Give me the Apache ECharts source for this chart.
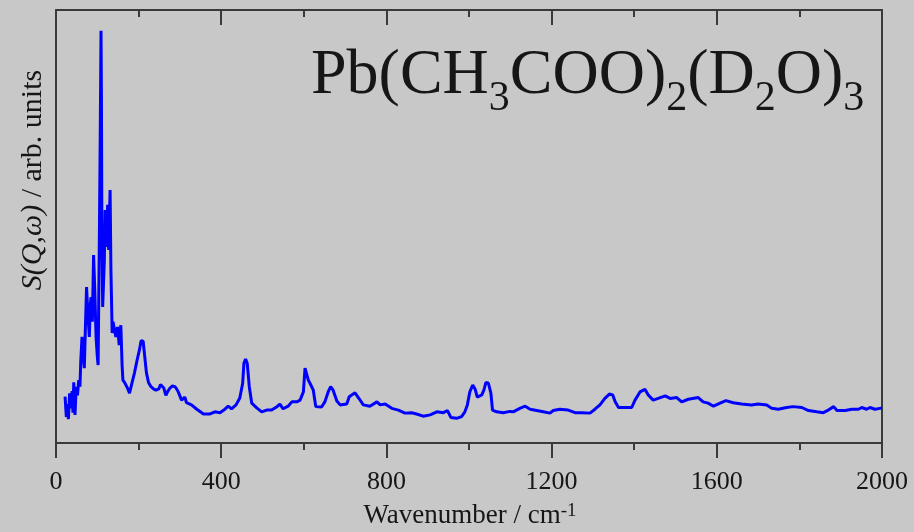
<!DOCTYPE html>
<html>
<head>
<meta charset="utf-8">
<script src="https://cdn.jsdelivr.net/npm/echarts@6/dist/echarts.min.js"></script>
<style>
  html, body { margin: 0; padding: 0; background: #c8c8c8; }
  #chart { width: 914px; height: 532px; }
</style>
</head>
<body>
<div id="chart"></div>
<script>
// Inelastic neutron scattering spectrum, wavenumber (cm^-1) vs S(Q,w) in arbitrary units
const wavenumber = [
  22, 25, 28, 30, 33, 36, 39, 41, 43, 46, 49, 52, 55, 58, 60, 63, 66, 68.5, 71, 74,
  77, 80.7, 83, 85, 88, 91, 94, 97, 100, 102, 105, 107, 109, 110, 111, 113, 117, 119, 122.5, 125,
  127.5, 131, 133, 136, 138, 141, 145, 149, 153, 157, 160, 162, 166, 170, 174, 178, 183, 190, 196, 202,
  206, 211, 214, 219, 224, 230, 236, 242, 249, 253, 257, 261, 266, 271, 276, 282, 288, 292, 296, 304,
  312, 316, 328, 341, 357, 373, 385, 397, 409, 417, 425, 436, 445, 452, 455, 459, 463, 468, 474, 486,
  498, 510, 522, 534, 542, 550, 562, 571, 583, 591, 599, 603, 607, 611, 615, 619, 623, 629, 643, 651,
  659, 665, 671, 680, 688, 704, 710, 724, 728, 735, 744, 760, 777, 785, 797, 813, 829, 833, 845, 861,
  873, 889, 906, 922, 938, 948, 956, 970, 982, 990, 996, 1002, 1009, 1015, 1020, 1031, 1036, 1041, 1047, 1053,
  1057, 1067, 1083, 1099, 1107, 1123, 1136, 1148, 1164, 1180, 1196, 1204, 1220, 1240, 1257, 1273, 1293, 1305, 1317, 1329,
  1340, 1348, 1354, 1362, 1378, 1394, 1402, 1414, 1426, 1434, 1446, 1458, 1475, 1487, 1503, 1515, 1531, 1555, 1567, 1579,
  1592, 1608, 1622, 1640, 1660, 1684, 1700, 1721, 1733, 1749, 1769, 1785, 1806, 1822, 1842, 1858, 1870, 1883, 1891, 1911,
  1927, 1943, 1951, 1963, 1971, 1983, 1995, 2000
];
const intensity = [
  10.7, 6, 9, 5.5, 11.5, 8, 12, 7, 14, 6.5, 13, 11, 14.5, 13, 19, 24.5, 20, 17.3, 26, 36,
  30, 24.5, 32, 33.7, 28, 43.4, 35, 24.5, 20, 18, 47.6, 70, 95.2, 80, 51.5, 31.4, 42, 53.8, 45.3, 55,
  44.6, 58.4, 40, 25.4, 28, 27.7, 24.5, 26.8, 22.6, 27.2, 18, 14.5, 14, 13.8, 12.5, 11.5, 13.5, 16.2, 19, 21.5,
  23.6, 23.5, 23.3, 16.2, 14, 13, 12.5, 12.2, 12.5, 13.5, 13.4, 12.7, 11, 12, 12.7, 13.2, 13, 12.5, 11.8, 9.9,
  10.6, 9.3, 8.8, 7.8, 6.7, 6.7, 7.2, 7, 7.8, 8.5, 7.9, 8.8, 10.4, 13.8, 18.4, 19.4, 18.4, 13, 9.2, 8.1,
  7.2, 7.6, 7.6, 8.3, 9, 7.9, 8.5, 9.5, 9.5, 9.9, 11.8, 17.3, 17.3, 14.5, 13.8, 14.2, 12.2, 8.4, 8.3, 9.5,
  11.8, 13, 12.2, 9.7, 8.8, 9, 10.7, 11.6, 11.8, 10.1, 8.8, 8.5, 9.5, 8.8, 9, 8, 7.6, 8, 6.9, 7,
  6.7, 6.2, 6.5, 7.2, 7, 7.5, 5.9, 5.7, 6.1, 7.2, 8.8, 11.8, 13.4, 12.4, 10.6, 11.1, 12.2, 14, 13.8, 11.5,
  7.6, 7.2, 7, 7.3, 7.2, 8, 8.5, 7.8, 7.5, 7.2, 6.9, 7.5, 7.8, 7.6, 7, 7, 6.9, 7.8, 8.8, 10.3,
  11.3, 11.1, 9.5, 8.2, 8.2, 8.2, 9.9, 11.8, 12.4, 11.1, 9.9, 10.3, 10.9, 10.3, 10.5, 9.5, 10.1, 10.5, 9.5, 9.2,
  8.5, 9.2, 9.8, 9.3, 9, 8.8, 9, 8.8, 8, 7.8, 8.2, 8.4, 8.2, 7.5, 7.2, 7, 7.6, 8.4, 7.5, 7.5,
  7.8, 7.8, 8.2, 7.8, 8.2, 7.8, 8, 8
];
const xTicks = [0, 400, 800, 1200, 1600, 2000];

// Formula pieces: [text, isSubscript]
const formulaParts = [['Pb(CH', 0], ['3', 1], ['COO)', 0], ['2', 1], ['(D', 0], ['2', 1], ['O)', 0], ['3', 1]];

const serif = 'Liberation Serif';
const frameColor = '#3a3a3a';
const inkColor = '#161616';

// Lay out the formula piece by piece so subscripts sit below the baseline
const measureCtx = document.createElement('canvas').getContext('2d');
function textWidth(str, size) {
  measureCtx.font = size + 'px "' + serif + '"';
  return measureCtx.measureText(str).width;
}
const mainSize = 64, subSize = 42;
const mainBaseline = 98, subBaseline = 113;
const midOffset = 0.3375; // distance from em middle to alphabetic baseline, in em
let penX = 311;
const formulaText = formulaParts.map(([str, sub]) => {
  const size = sub ? subSize : mainSize;
  const base = sub ? subBaseline : mainBaseline;
  const el = {
    type: 'text', x: penX, y: base - midOffset * size, z: 10,
    style: {
      text: str, fontFamily: serif, fontSize: size, fill: inkColor,
      align: 'left', verticalAlign: 'middle'
    }
  };
  penX += textWidth(str, size);
  return el;
});

const chart = echarts.init(document.getElementById('chart'), null, { renderer: 'canvas' });

const points = wavenumber.map((w, i) => [w, intensity[i]]);

const frameLine = { show: true, onZero: false, lineStyle: { color: frameColor, width: 2 } };

chart.setOption({
  backgroundColor: '#c8c8c8',
  animation: false,
  grid: { left: 56, top: 10, right: 32, bottom: 89 },
  xAxis: [
    {
      type: 'value', position: 'bottom',
      min: xTicks[0], max: xTicks[xTicks.length - 1], interval: xTicks[1] - xTicks[0],
      axisLine: frameLine,
      axisTick: { show: true, inside: false, length: 15, lineStyle: { color: frameColor, width: 2 } },
      minorTick: { show: true, splitNumber: 2, length: 7, lineStyle: { color: frameColor, width: 2 } },
      axisLabel: {
        show: true, margin: 26, fontFamily: serif, fontSize: 26, color: inkColor,
        formatter: v => String(v)
      },
      splitLine: { show: false }
    },
    {
      type: 'value', position: 'top',
      min: xTicks[0], max: xTicks[xTicks.length - 1], interval: xTicks[1] - xTicks[0],
      axisLine: frameLine,
      axisTick: { show: true, inside: true, length: 15, lineStyle: { color: frameColor, width: 2 } },
      minorTick: { show: true, splitNumber: 2, length: 7, lineStyle: { color: frameColor, width: 2 } },
      axisLabel: { show: false },
      splitLine: { show: false }
    }
  ],
  yAxis: [
    {
      type: 'value', position: 'left', min: 0, max: 100,
      axisLine: frameLine,
      axisTick: { show: false }, axisLabel: { show: false }, splitLine: { show: false }
    },
    {
      type: 'value', position: 'right', min: 0, max: 100,
      axisLine: frameLine,
      axisTick: { show: false }, axisLabel: { show: false }, splitLine: { show: false }
    }
  ],
  series: [{
    type: 'line',
    xAxisIndex: 0, yAxisIndex: 0,
    data: points,
    showSymbol: false,
    smooth: false,
    lineStyle: { color: '#0000ff', width: 3 },
    z: 3
  }],
  graphic: formulaText.concat([
    {
      // x axis title
      type: 'text', x: 470, y: 502, z: 10,
      style: {
        text: '{m|Wavenumber / cm}{s|-1}',
        align: 'center', verticalAlign: 'top',
        rich: {
          m: { fontFamily: serif, fontSize: 27, lineHeight: 27, fill: inkColor },
          s: { fontFamily: serif, fontSize: 19, lineHeight: 8, verticalAlign: 'top', fill: inkColor }
        }
      }
    },
    {
      // y axis title
      type: 'text', x: 33, y: 180, rotation: Math.PI / 2, z: 10,
      style: {
        text: '{i|S(Q,ω)}{m| / arb. units}',
        align: 'center', verticalAlign: 'middle',
        rich: {
          i: { fontFamily: serif, fontStyle: 'italic', fontSize: 30, lineHeight: 30, fill: inkColor },
          m: { fontFamily: serif, fontSize: 30, lineHeight: 30, fill: inkColor }
        }
      }
    }
  ])
});
</script>
</body>
</html>
